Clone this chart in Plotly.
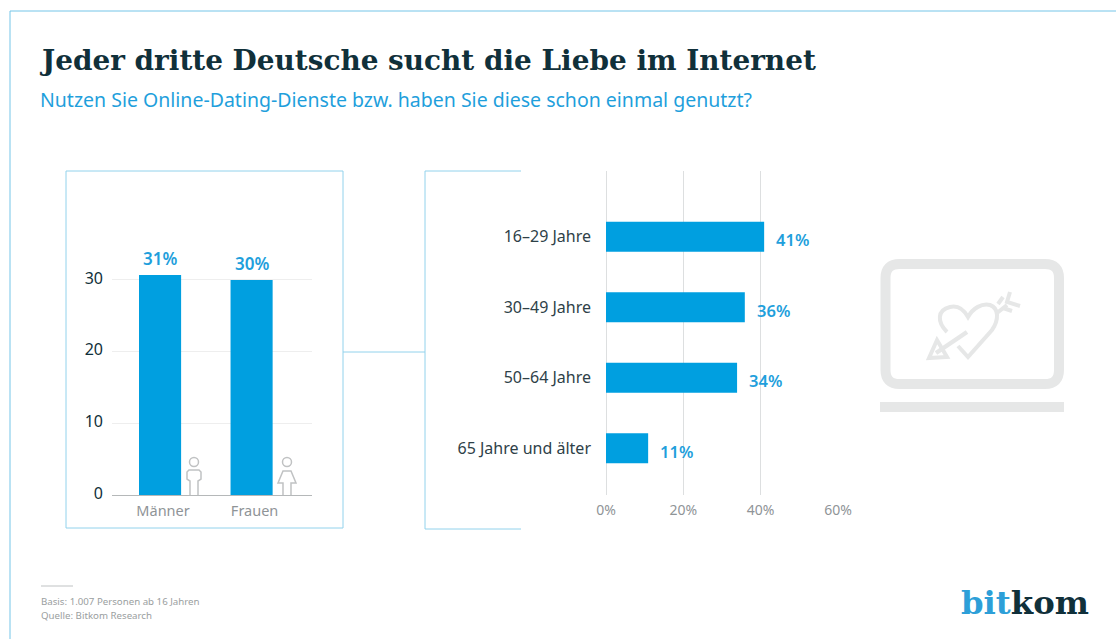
import plotly.graph_objects as go

W, H = 1116, 639
gender = ["Männer", "Frauen"]
gender_values = [30.7, 30.0]
gender_labels = ["31%", "30%"]
gender_ticks = [0, 10, 20, 30]
ages = ["16–29 Jahre", "30–49 Jahre", "50–64 Jahre", "65 Jahre und älter"]
age_values = [40.9, 35.9, 33.9, 10.9]
age_labels = ["41%", "36%", "34%", "11%"]
age_ticks = [0, 20, 40, 60]
age_tick_text = ["0%", "20%", "40%", "60%"]

BLUE = "#009fe0"
LABEL = "#1f9fdc"
FRAME = "#92d2ec"
OUTER = "#74c5e8"
DARK = "#10303a"
GREY = "#8f9497"
BODY = "Noto Sans"


def px(x):
    return x / W


def py(y):
    return 1 - y / H


fig = go.Figure()
fig.add_bar(x=gender, y=gender_values, marker=dict(color=BLUE, line=dict(width=0)),
            width=0.46, xaxis="x", yaxis="y", hoverinfo="skip")
fig.add_bar(x=age_values, y=ages, orientation="h", marker=dict(color=BLUE, line=dict(width=0)),
            width=0.4255, xaxis="x2", yaxis="y2", hoverinfo="skip")


def box(x0, y0, x1, y1, **k):
    return dict(type="rect", xref="paper", yref="paper", x0=px(x0), x1=px(x1), y0=py(y0), y1=py(y1), layer="below", **k)


def seg(x0, y0, x1, y1, color=FRAME, width=1):
    return dict(type="line", xref="paper", yref="paper", x0=px(x0), x1=px(x1), y0=py(y0), y1=py(y1),
                line=dict(color=color, width=width), layer="below")


def path(points, color, width=1.5, close=False, fill=None):
    d = "M" + " L".join(f"{px(a):.5f},{py(b):.5f}" for a, b in points) + (" Z" if close else "")
    return dict(type="path", xref="paper", yref="paper", path=d, line=dict(color=color, width=width),
                fillcolor=fill or "rgba(0,0,0,0)", layer="above")


def curve(cmds, color, width):
    out = []
    for c in cmds:
        vals = c[1:]
        pts = " ".join(f"{px(vals[i]):.5f},{py(vals[i + 1]):.5f}" for i in range(0, len(vals), 2))
        out.append(c[0] + pts)
    return dict(type="path", xref="paper", yref="paper", path=" ".join(out), line=dict(color=color, width=width),
                fillcolor="rgba(0,0,0,0)", layer="below")


def circ(cx, cy, r, color, width=1.5):
    return dict(type="circle", xref="paper", yref="paper", x0=px(cx - r), x1=px(cx + r), y0=py(cy + r), y1=py(cy - r),
                line=dict(color=color, width=width), layer="above")


ICON = "#c0c2c3"
LAP = "#e6e7e7"
L, R, T, B, C = 885.5, 1059, 264, 384, 14
shapes = [
    seg(10, 11, 1116, 11, color=OUTER), seg(10, 11, 10, 639, color=OUTER),
    box(66, 171, 343, 528, line=dict(color=FRAME, width=1)),
    seg(343, 352, 425, 352),
    seg(425, 171, 521, 171), seg(425, 171, 425, 529), seg(425, 529, 521, 529),
    seg(41, 586, 73, 586, color="#bfc2c3", width=1),
    # man
    circ(194, 462, 4.5, ICON),
    path([(190, 495), (190, 481), (187, 479), (187, 472), (189, 470), (199, 470), (201, 472), (201, 479), (198, 481), (198, 495)], ICON),
    # woman
    circ(287, 462, 4.5, ICON),
    path([(283, 495), (283, 483), (278, 483), (283, 471), (291, 471), (296, 483), (291, 483), (291, 495)], ICON),
    # laptop
    curve([("M", L + C, T), ("L", R - C, T), ("Q", R, T, R, T + C), ("L", R, B - C), ("Q", R, B, R - C, B),
           ("L", L + C, B), ("Q", L, B, L, B - C), ("L", L, T + C), ("Q", L, T, L + C, T), ("Z",)], LAP, 10),
    box(880, 402, 1064, 412, fillcolor=LAP, line=dict(width=0)),
    # heart and arrow
    curve([("M", 947, 332), ("C", 937, 322, 937, 310, 950, 307), ("C", 958, 305, 964, 310, 968, 317),
           ("C", 973, 308, 982, 303, 990, 305), ("C", 999, 308, 999, 320, 992, 330), ("L", 968, 357), ("L", 958, 346)], LAP, 4),
    curve([("M", 936, 353), ("L", 967, 332)], LAP, 4.5),
    curve([("M", 929, 358), ("L", 937, 340), ("L", 947, 357), ("Z",)], LAP, 4),
    curve([("M", 997, 313), ("L", 1007, 305)], LAP, 4),
    curve([("M", 998, 304), ("L", 1003, 297)], LAP, 4),
    curve([("M", 1003, 308), ("L", 1012, 311)], LAP, 4),
    curve([("M", 1010, 292), ("L", 1007, 302), ("L", 1020, 306)], LAP, 4),
]

ann = [
    dict(text="Jeder dritte Deutsche sucht die Liebe im Internet", x=px(37), y=py(60), xanchor="left", yanchor="middle",
         font=dict(family="DejaVu Serif", size=27.9, color=DARK, weight=700), showarrow=False, xref="paper", yref="paper"),
    dict(text="Nutzen Sie Online-Dating-Dienste bzw. haben Sie diese schon einmal genutzt?", x=px(38), y=py(99),
         xanchor="left", yanchor="middle", font=dict(family=BODY, size=19.5, color=LABEL), showarrow=False, xref="paper", yref="paper"),
    dict(text="Basis: 1.007 Personen ab 16 Jahren", x=px(39), y=py(601), xanchor="left", yanchor="middle",
         font=dict(family=BODY, size=9.7, color="#9a9ea0"), showarrow=False, xref="paper", yref="paper"),
    dict(text="Quelle: Bitkom Research", x=px(39), y=py(615), xanchor="left", yanchor="middle",
         font=dict(family=BODY, size=9.7, color="#9a9ea0"), showarrow=False, xref="paper", yref="paper"),
    dict(text="<span style='color:#2d9fd8'>bit</span><span style='color:#10303a'>kom</span>", x=px(1091), y=py(603),
         xanchor="right", yanchor="middle", font=dict(family="DejaVu Serif", size=32.3, weight=700), showarrow=False, xref="paper", yref="paper"),
]
for name, value, label in zip(gender, gender_values, gender_labels):
    ann.append(dict(text=label, x=name, y=value, xref="x", yref="y", xanchor="center", yanchor="middle", yshift=16, showarrow=False,
                    font=dict(family=BODY, size=17, color=LABEL, weight=600)))
for name, value, label in zip(ages, age_values, age_labels):
    ann.append(dict(text=label, x=value, y=name, xref="x2", yref="y2", xanchor="left", yanchor="middle", xshift=10, yshift=-3, showarrow=False,
                    font=dict(family=BODY, size=16.5, color=LABEL, weight=600)))

fig.update_layout(
    width=W, height=H, margin=dict(l=0, r=0, t=0, b=0, autoexpand=False), paper_bgcolor="white", plot_bgcolor="rgba(0,0,0,0)",
    showlegend=False, shapes=shapes, annotations=ann, font=dict(family=BODY),
    xaxis=dict(domain=[px(112), px(312)], range=[-0.525, 1.66], anchor="y", showgrid=False, showline=True, linecolor="#b5b8b9",
               linewidth=1, ticks="", tickfont=dict(size=14.5, color=GREY, family=BODY), ticklabelshift=3, ticklabelstandoff=3, fixedrange=True),
    yaxis=dict(domain=[py(495), py(200)], range=[0, 295 / 7.167], anchor="x", tickvals=gender_ticks, showgrid=True,
               gridcolor="#eeeeee", gridwidth=1, zeroline=False, showline=False, ticks="", ticklabelstandoff=8, ticklabelshift=-2,
               tickfont=dict(size=16, color=DARK, family=BODY), fixedrange=True),
    xaxis2=dict(domain=[px(606), px(838)], range=[0, 60], anchor="y2", tickvals=age_ticks, ticktext=age_tick_text, showgrid=True,
                gridcolor="#dddfe0", gridwidth=1, zeroline=True, zerolinecolor="#dddfe0", zerolinewidth=1, showline=False, ticks="",
                ticklabelstandoff=5, tickfont=dict(size=14, color=GREY, family=BODY), fixedrange=True),
    yaxis2=dict(domain=[py(495), py(171)], range=[3.664, -0.932], anchor="x2", showgrid=False, showline=False, ticks="", ticklabelstandoff=14,
                tickfont=dict(size=16, color="#2e4148", family=BODY), fixedrange=True),
)
fig.write_html("out.html", config=dict(displayModeBar=False),
               post_script="document.body.style.margin='0';document.body.style.overflow='hidden';")
